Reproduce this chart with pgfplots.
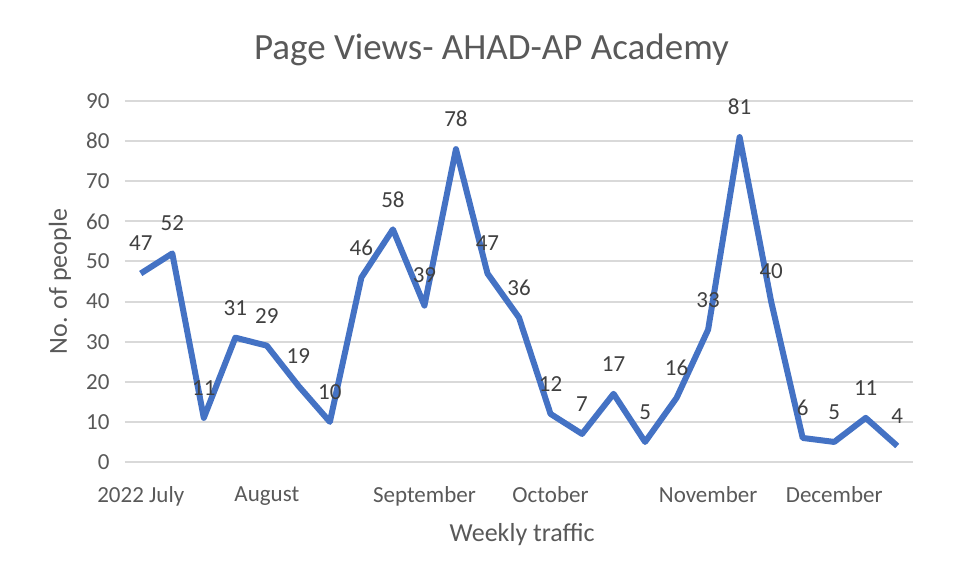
\documentclass[border=0pt]{standalone}
\usepackage{pgfplots}
\pgfplotsset{compat=1.18}
\usepackage{fontspec}
\setmainfont{Carlito}
\definecolor{lineblue}{HTML}{4472C4}
\definecolor{txt}{HTML}{595959}
\definecolor{dtxt}{HTML}{404040}
\definecolor{gridc}{HTML}{D9D9D9}
\begin{document}
\begin{tikzpicture}
\path[use as bounding box] (0,0) rectangle (962pt,574pt);
\begin{axis}[
 at={(125pt,112pt)}, anchor=south west,
 scale only axis, width=788pt, height=361pt,
 xmin=-0.5, xmax=24.5, ymin=0, ymax=90,
 ytick={0,10,...,90},
 xtick={0,4,9,13,18,22},
 xticklabels={2022 July, August, September, October, November, December},
 axis line style={draw=none},
 ymajorgrids, grid style={gridc, line width=2pt},
 major tick length=0pt,
 tick label style={font=\fontsize{23}{28}\selectfont, text=txt},
 yticklabel style={xshift=-12pt},
 xticklabel style={yshift=-21pt},
 /pgf/number format/assume math mode=true,
 title={Page Views- AHAD-AP Academy},
 title style={font=\fontsize{37}{44}\selectfont, text=txt, at={(axis description cs:0.465,1.1247)}, anchor=center},
 xlabel={Weekly traffic},
 xlabel style={font=\fontsize{26}{31}\selectfont, text=txt, at={(axis description cs:0.504,-0.2022)}, anchor=center},
 ylabel={No. of people},
 ylabel style={font=\fontsize{26}{31}\selectfont, text=txt, at={(axis description cs:-0.0825,0.5)}, anchor=center},
 nodes near coords,
 every node near coord/.style={font=\fontsize{23}{28}\selectfont, text=dtxt, anchor=center, yshift=30pt},
 clip=false,
]
\addplot[lineblue, line width=6pt, line join=round, mark=none] coordinates {
(0,47) (1,52) (2,11) (3,31) (4,29) (5,19) (6,10) (7,46) (8,58) (9,39)
(10,78) (11,47) (12,36) (13,12) (14,7) (15,17) (16,5) (17,16) (18,33) (19,81)
(20,40) (21,6) (22,5) (23,11) (24,4)
};
\end{axis}
\end{tikzpicture}
\end{document}
